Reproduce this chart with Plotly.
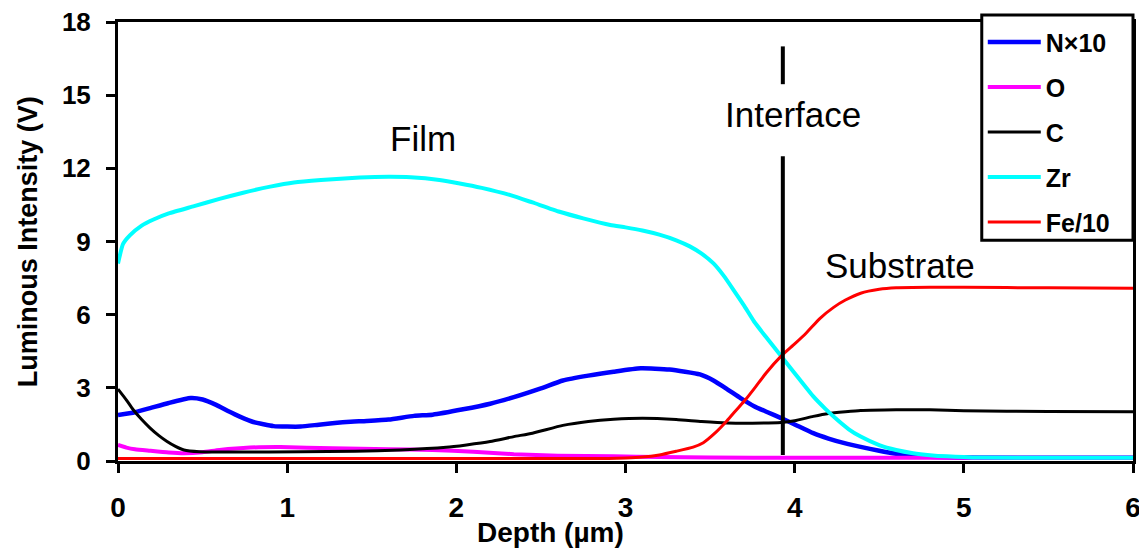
import plotly.graph_objects as go

# ---- data ----
n_depth = [0, 0.1, 0.19, 0.3, 0.43, 0.5, 0.58, 0.65, 0.72, 0.8, 0.92, 1.0, 1.08, 1.2, 1.35, 1.47,
           1.6, 1.75, 1.86, 2.04, 2.2, 2.34, 2.5, 2.63, 2.78, 2.93, 3.09, 3.26, 3.44, 3.52, 3.6,
           3.68, 3.76, 3.84, 3.92, 4.0, 4.11, 4.2, 4.3, 4.39, 4.5, 4.6, 4.7, 4.8, 4.9, 5.0, 6.0]
n_vals = [1.89, 2.0, 2.17, 2.38, 2.58, 2.52, 2.3, 2.05, 1.82, 1.6, 1.43, 1.41, 1.41, 1.5, 1.6, 1.64,
          1.7, 1.85, 1.9, 2.12, 2.35, 2.62, 2.98, 3.3, 3.5, 3.66, 3.8, 3.75, 3.55, 3.3, 2.95,
          2.58, 2.25, 2.0, 1.76, 1.5, 1.14, 0.92, 0.72, 0.58, 0.42, 0.3, 0.22, 0.17, 0.15, 0.14, 0.13]

o_depth = [0, 0.05, 0.1, 0.19, 0.3, 0.39, 0.5, 0.6, 0.78, 0.96, 1.27, 1.6, 1.86, 2.1, 2.34, 2.6,
           2.93, 3.2, 3.5, 4.0, 5.0, 6.0]
o_vals = [0.66, 0.55, 0.48, 0.42, 0.35, 0.32, 0.36, 0.45, 0.55, 0.57, 0.52, 0.48, 0.45, 0.38, 0.28,
          0.22, 0.19, 0.16, 0.14, 0.13, 0.13, 0.13]

c_depth = [0, 0.05, 0.09, 0.14, 0.19, 0.24, 0.29, 0.34, 0.39, 0.48, 0.7, 1.08, 1.4, 1.67, 1.94, 2.06,
           2.2, 2.34, 2.45, 2.63, 2.78, 2.93, 3.1, 3.3, 3.45, 3.6, 3.75, 3.92, 4.0, 4.11, 4.2, 4.3,
           4.39, 4.6, 4.8, 5.0, 5.5, 6.0]
c_vals = [2.95, 2.5, 2.1, 1.7, 1.35, 1.05, 0.8, 0.6, 0.45, 0.38, 0.37, 0.38, 0.4, 0.45, 0.56, 0.66,
          0.8, 1.0, 1.14, 1.46, 1.62, 1.71, 1.75, 1.7, 1.62, 1.56, 1.55, 1.58, 1.65, 1.83, 1.95, 2.02,
          2.07, 2.1, 2.1, 2.06, 2.03, 2.02]

zr_depth = [0, 0.03, 0.07, 0.14, 0.21, 0.3, 0.45, 0.6, 0.74, 0.9, 1.04, 1.2, 1.43, 1.6, 1.73, 1.9,
            2.02, 2.15, 2.32, 2.45, 2.61, 2.75, 2.91, 3.0, 3.1, 3.2, 3.3, 3.38, 3.45, 3.52, 3.58,
            3.64, 3.7, 3.76, 3.84, 3.92, 4.0, 4.11, 4.18, 4.25, 4.32, 4.39, 4.5, 4.6, 4.7, 4.8, 4.9,
            5.0, 5.1, 5.5, 6.0]
zr_vals = [8.1, 8.9, 9.25, 9.65, 9.9, 10.15, 10.45, 10.75, 11.0, 11.25, 11.42, 11.52, 11.62, 11.65,
           11.63, 11.52, 11.38, 11.2, 10.9, 10.6, 10.22, 9.95, 9.68, 9.58, 9.45, 9.28, 9.05, 8.8,
           8.5, 8.1, 7.6, 7.0, 6.38, 5.72, 5.0, 4.3, 3.6, 2.65, 2.15, 1.7, 1.3, 1.0, 0.65, 0.45,
           0.32, 0.24, 0.19, 0.16, 0.14, 0.13, 0.13]

fe_depth = [0, 2.9, 3.0, 3.1, 3.2, 3.3, 3.4, 3.46, 3.53, 3.6, 3.65, 3.71, 3.77, 3.83, 3.92, 4.0,
            4.07, 4.15, 4.23, 4.3, 4.39, 4.5, 4.6, 4.8, 5.0, 5.5, 6.0]
fe_vals = [0.1, 0.1, 0.12, 0.16, 0.25, 0.4, 0.57, 0.75, 1.15, 1.65, 2.05, 2.52, 3.05, 3.6, 4.3, 4.8,
           5.26, 5.85, 6.3, 6.6, 6.88, 7.04, 7.1, 7.12, 7.12, 7.1, 7.08]

series_names = ["N×10", "O", "C", "Zr", "Fe/10"]
series_colors = ["#0000FF", "#FF00FF", "#000000", "#00FFFF", "#FF0000"]
series_widths = [4.5, 4, 3, 4, 3]

interface_depth = 3.93
interface_segments_y = [17.0, 15.45, None, 12.5, 0.25]

x_ticks = [0, 1, 2, 3, 4, 5, 6]
y_ticks = [0, 3, 6, 9, 12, 15, 18]

labels = [("Film", 1.80, 13.22), ("Interface", 3.99, 14.2), ("Substrate", 4.62, 8.03)]

FONT = "Arial, 'Liberation Sans', sans-serif"

fig = go.Figure()
all_x = [n_depth, o_depth, c_depth, zr_depth, fe_depth]
all_y = [n_vals, o_vals, c_vals, zr_vals, fe_vals]
for i, name in enumerate(series_names):
    fig.add_trace(go.Scatter(
        x=all_x[i], y=all_y[i], mode="lines", name=name,
        line=dict(color=series_colors[i], width=series_widths[i], shape="spline", smoothing=0.5),
        legendgroup=name,
    ))

fig.add_trace(go.Scatter(
    x=[interface_depth if v is not None else None for v in interface_segments_y],
    y=interface_segments_y, mode="lines", showlegend=False,
    line=dict(color="black", width=4), connectgaps=False,
))

for text, lx, ly in labels:
    fig.add_annotation(x=lx, y=ly, text=text, showarrow=False, xanchor="center", yanchor="middle",
                       font=dict(family=FONT, size=35, color="black"))

# axis titles
fig.add_annotation(xref="paper", yref="paper", x=0.426, y=-0.164, text="<b>Depth (µm)</b>",
                   xanchor="center", yanchor="middle",
                   showarrow=False, font=dict(family=FONT, size=28, color="black"))
fig.add_annotation(xref="paper", yref="paper", x=-0.089, y=0.5, text="<b>Luminous Intensity (V)</b>",
                   xanchor="center", yanchor="middle",
                   textangle=-90, showarrow=False, font=dict(family=FONT, size=27, color="black"))

# legend frame
fig.add_shape(type="rect", xref="paper", yref="paper", x0=0.851, x1=1.0, y0=0.503, y1=1.016,
              line=dict(color="black", width=3), fillcolor="white", layer="above")

fig.update_layout(
    width=1139, height=542,
    margin=dict(l=110, r=14, t=14, b=89, autoexpand=False),
    plot_bgcolor="white", paper_bgcolor="white",
    font=dict(family=FONT, color="black"),
    showlegend=True,
    legend=dict(x=0.852, y=1.006, xanchor="left", yanchor="top", bgcolor="rgba(0,0,0,0)",
                borderwidth=0, font=dict(family=FONT, size=25, color="black", weight="bold"),
                tracegroupgap=9.5, itemwidth=53),
    xaxis=dict(range=[0, 6], tickvals=x_ticks, ticks="outside", ticklen=9, tickwidth=3,
               tickcolor="black", showline=True, linecolor="black", linewidth=3, mirror=True,
               showgrid=False, zeroline=False, ticklabelstandoff=10, automargin=False,
               ticklabeloverflow="allow",
               tickfont=dict(family=FONT, size=28, color="black", weight="bold")),
    yaxis=dict(range=[0, 18], tickvals=y_ticks, ticks="outside", ticklen=9, tickwidth=3,
               tickcolor="black", showline=True, linecolor="black", linewidth=3, mirror=True,
               showgrid=False, zeroline=False, ticklabelstandoff=10, automargin=False,
               ticklabeloverflow="allow",
               tickfont=dict(family=FONT, size=26, color="black", weight="bold")),
)

fig.write_html("out.html")
